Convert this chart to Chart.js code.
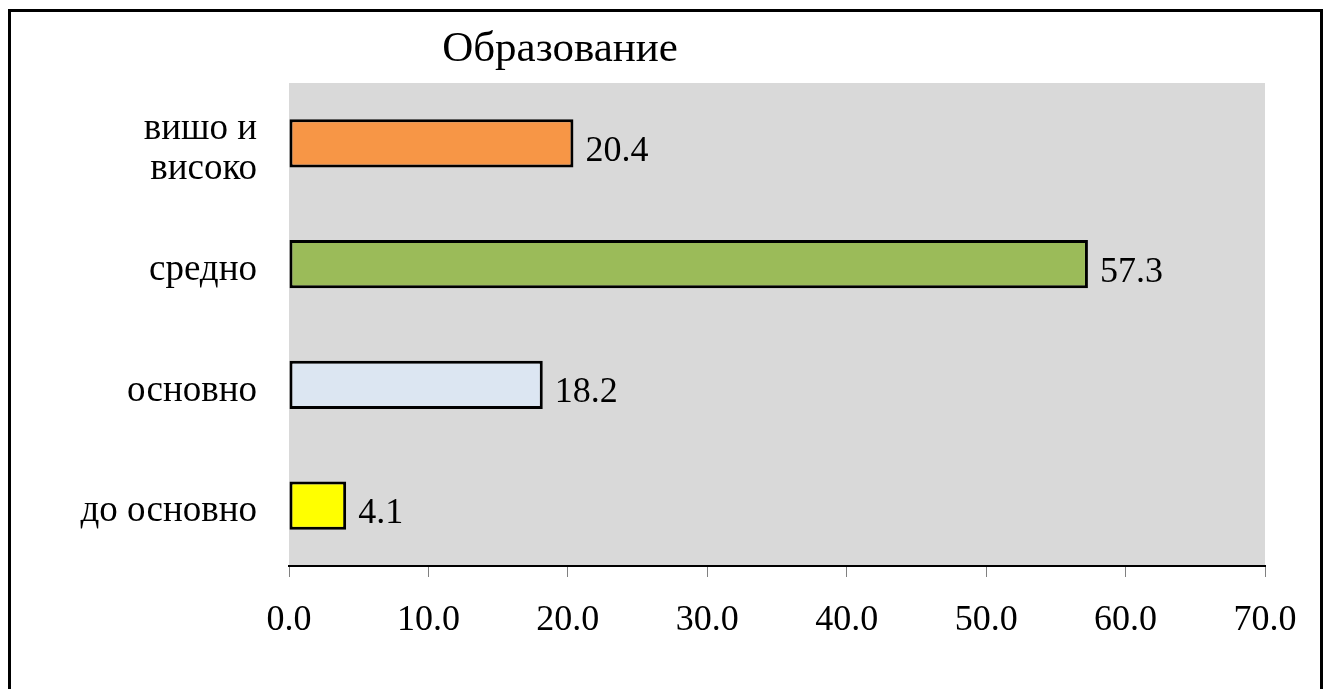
<!DOCTYPE html>
<html>
<head>
<meta charset="utf-8">
<script src="https://cdn.jsdelivr.net/npm/chart.js@4.4.0/dist/chart.umd.min.js"></script>
<style>
  html, body { margin: 0; padding: 0; background: #fff; overflow: hidden; }
  #wrap { position: relative; width: 1326px; height: 689px; }
  #frame { position: absolute; left: 8px; top: 9px; width: 1309px; height: 700px; border: 3px solid #000; pointer-events: none; }
</style>
</head>
<body>
<div id="wrap">
  <canvas id="chart" width="1326" height="689"></canvas>
  <div id="frame"></div>
</div>
<script>
// --- data ---
const categories = [['вишо и', 'високо'], 'средно', 'основно', 'до основно'];
const values = [20.4, 57.3, 18.2, 4.1];
const barColors = ['#f79646', '#9bbb59', '#dce6f2', '#ffff00'];
const xTicks = [0, 10, 20, 30, 40, 50, 60, 70];
const chartTitle = 'Образование';

const FONT = '"Liberation Serif", "Times New Roman", serif';

// grey plot background
const plotBg = {
    id: 'plotBg',
    beforeDraw(chart) {
        const { ctx, chartArea: a } = chart;
        ctx.save();
        ctx.fillStyle = '#d9d9d9';
        ctx.fillRect(a.left, a.top, a.right - a.left, a.bottom - a.top);
        ctx.restore();
    }
};

// title sits left of centre like the original
const titlePlugin = {
    id: 'titlePlugin',
    afterDraw(chart) {
        const ctx = chart.ctx;
        ctx.save();
        ctx.font = '43px ' + FONT;
        ctx.fillStyle = '#000';
        ctx.textAlign = 'center';
        ctx.textBaseline = 'alphabetic';
        ctx.fillText(chartTitle, 560, 61);
        ctx.restore();
    }
};

// value labels to the right of each bar
const valueLabels = {
    id: 'valueLabels',
    afterDatasetsDraw(chart) {
        const ctx = chart.ctx;
        const meta = chart.getDatasetMeta(0);
        ctx.save();
        ctx.font = '36px ' + FONT;
        ctx.fillStyle = '#000';
        ctx.textAlign = 'left';
        ctx.textBaseline = 'middle';
        meta.data.forEach((bar, i) => {
            ctx.fillText(values[i].toFixed(1), bar.x + 12, bar.y + 8);
        });
        ctx.restore();
    }
};

new Chart(document.getElementById('chart'), {
    type: 'bar',
    data: {
        labels: categories,
        datasets: [{
            data: values,
            backgroundColor: barColors,
            borderColor: '#000',
            borderWidth: 3,
            borderSkipped: false,
            categoryPercentage: 1,
            barPercentage: 0.4
        }]
    },
    options: {
        indexAxis: 'y',
        responsive: false,
        animation: false,
        devicePixelRatio: 1,
        layout: { padding: { top: 83, right: 61, bottom: 0, left: 0 } },
        plugins: { legend: { display: false }, tooltip: { enabled: false }, title: { display: false } },
        scales: {
            x: {
                min: xTicks[0],
                max: xTicks[xTicks.length - 1],
                afterBuildTicks: (scale) => { scale.ticks = xTicks.map(v => ({ value: v })); },
                afterFit: (scale) => { scale.height = 123; },
                grid: { drawOnChartArea: false, drawTicks: true, tickLength: 11, color: '#808080', lineWidth: 1 },
                border: { display: true, color: '#000', width: 2 },
                ticks: {
                    color: '#000',
                    font: { family: FONT, size: 36 },
                    padding: 22,
                    maxRotation: 0,
                    callback: (v) => Number(v).toFixed(1)
                }
            },
            y: {
                afterFit: (scale) => { scale.width = 289; },
                grid: { display: false },
                border: { display: false },
                ticks: {
                    color: '#000',
                    font: { family: FONT, size: 37, lineHeight: 1.1 },
                    padding: 24,
                    labelOffset: 6
                }
            }
        }
    },
    plugins: [plotBg, titlePlugin, valueLabels]
});
</script>
</body>
</html>
